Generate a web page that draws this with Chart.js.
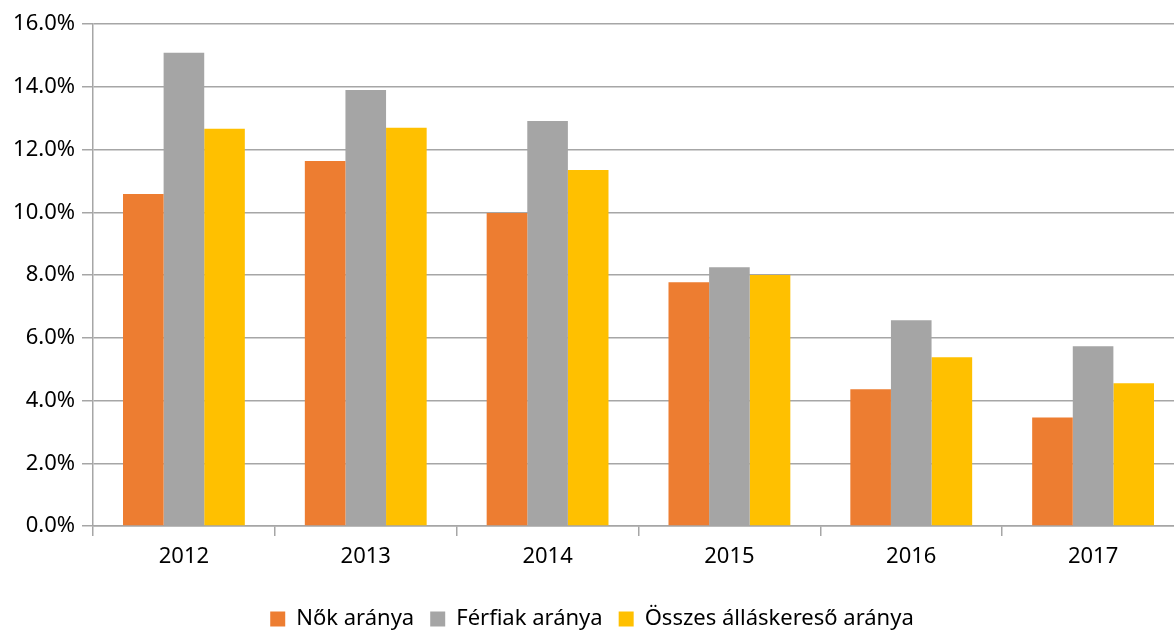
<!DOCTYPE html>
<html>
<head>
<meta charset="utf-8">
<script src="https://cdn.jsdelivr.net/npm/chart.js@4/dist/chart.umd.min.js"></script>
<style>
  html, body { margin: 0; padding: 0; background: #fff; overflow: hidden; }
  #wrap { width: 1190px; height: 630px; }
</style>
</head>
<body>
<div id="wrap"><canvas id="rateChart"></canvas></div>
<script>
const years = ['2012', '2013', '2014', '2015', '2016', '2017'];
const nokAranya = [10.58, 11.63, 9.98, 7.77, 4.36, 3.46];
const ferfiakAranya = [15.08, 13.90, 12.91, 8.25, 6.56, 5.73];
const osszesAranya = [12.66, 12.69, 11.35, 8.00, 5.38, 4.55];

const gridColor = '#a6a6a6';
const fontFamily = '"Noto Sans", "Open Sans", sans-serif';

const ctx = document.getElementById('rateChart').getContext('2d');
new Chart(ctx, {
  type: 'bar',
  data: {
    labels: years,
    datasets: [
      { label: 'Nők aránya', data: nokAranya, backgroundColor: '#ed7d31' },
      { label: 'Férfiak aránya', data: ferfiakAranya, backgroundColor: '#a5a5a5' },
      { label: 'Összes álláskereső aránya', data: osszesAranya, backgroundColor: '#ffc000' },
    ],
  },
  options: {
    responsive: true,
    maintainAspectRatio: false,
    animation: false,
    // negative bottom padding pushes the legend closer to the bottom edge
    layout: { padding: { top: 24, right: 6, left: 0, bottom: -10 } },
    datasets: {
      bar: { categoryPercentage: 0.67, barPercentage: 1.0, borderWidth: 0 },
    },
    plugins: {
      tooltip: { enabled: false },
      legend: {
        position: 'bottom',
        labels: {
          color: '#000',
          font: { family: fontFamily, size: 22 },
          boxWidth: 15,
          boxHeight: 15,
          padding: 16,
        },
      },
    },
    scales: {
      x: {
        afterFit: (scale) => { scale.height = 66; },
        grid: {
          display: true,
          drawOnChartArea: false,
          drawTicks: true,
          tickLength: 10,
          color: gridColor,
          lineWidth: 1.5,
        },
        border: { display: true, color: gridColor, width: 1.5 },
        ticks: {
          color: '#000',
          font: { family: fontFamily, size: 22 },
          padding: 8,
        },
      },
      y: {
        min: 0,
        max: 16,
        afterFit: (scale) => { scale.width = 93; },
        grid: {
          color: gridColor,
          lineWidth: 1.5,
          drawTicks: true,
          tickLength: 11,
        },
        border: { display: true, color: gridColor, width: 1.5 },
        ticks: {
          stepSize: 2,
          color: '#000',
          padding: 7,
          font: { family: fontFamily, size: 22 },
          callback: (v) => v.toFixed(1) + '%',
        },
      },
    },
  },
});
</script>
</body>
</html>
